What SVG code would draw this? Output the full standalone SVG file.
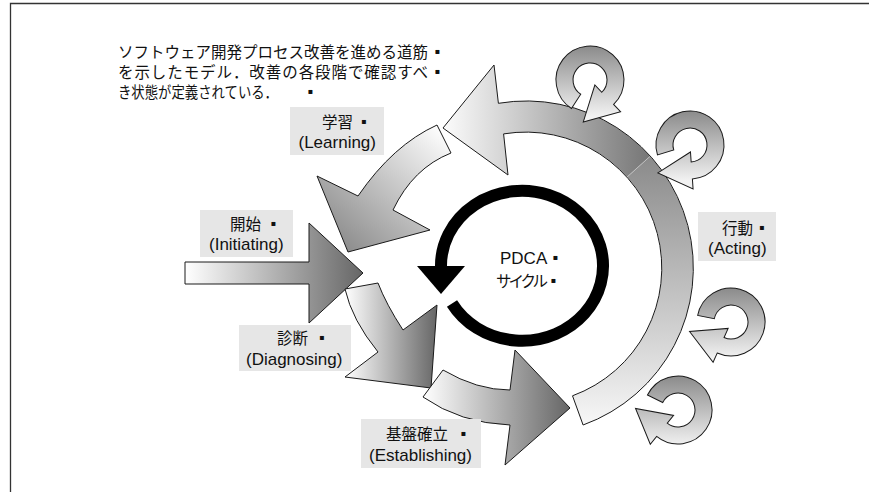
<svg xmlns="http://www.w3.org/2000/svg" width="879" height="497" viewBox="0 0 879 497">
<defs>
<style>
.o{stroke:#1a1a1a;stroke-width:1;stroke-linejoin:miter}
.t{font-family:'Liberation Sans','Noto Sans CJK JP',sans-serif;font-size:17px;fill:#111}
.j{font-family:'Noto Sans CJK JP',sans-serif;font-size:15.5px;fill:#111}
.q{font-family:'DejaVu Sans',sans-serif;font-size:8px;fill:#111}
.lb{fill:#e6e6e6}
</style>
<linearGradient id="gLearn" gradientUnits="userSpaceOnUse" x1="445" y1="135" x2="340" y2="250"><stop offset="0" stop-color="#fcfcfc"/><stop offset="1" stop-color="#8a8a8a"/></linearGradient>
<linearGradient id="gInit" gradientUnits="userSpaceOnUse" x1="185" y1="0" x2="363" y2="0"><stop offset="0" stop-color="#ffffff"/><stop offset="1" stop-color="#666666"/></linearGradient>
<linearGradient id="gDiag" gradientUnits="userSpaceOnUse" x1="345" y1="0" x2="437" y2="0"><stop offset="0" stop-color="#ffffff"/><stop offset="1" stop-color="#666666"/></linearGradient>
<linearGradient id="gEst" gradientUnits="userSpaceOnUse" x1="423" y1="0" x2="570" y2="0"><stop offset="0" stop-color="#ffffff"/><stop offset="1" stop-color="#666666"/></linearGradient>
<linearGradient id="gBand1" gradientUnits="userSpaceOnUse" x1="0" y1="425" x2="0" y2="156"><stop offset="0" stop-color="#f7f7f7"/><stop offset="1" stop-color="#8a8a8a"/></linearGradient>
<linearGradient id="gBand2" gradientUnits="userSpaceOnUse" x1="443" y1="0" x2="650" y2="0"><stop offset="0" stop-color="#fcfcfc"/><stop offset="1" stop-color="#767676"/></linearGradient>
<linearGradient id="gi1" gradientUnits="userSpaceOnUse" x1="0" y1="-36" x2="0" y2="36" gradientTransform="rotate(82)"><stop offset="0" stop-color="#888888"/><stop offset="1" stop-color="#f2f2f2"/></linearGradient>
<linearGradient id="gi2" gradientUnits="userSpaceOnUse" x1="0" y1="-36" x2="0" y2="36" gradientTransform="rotate(42)"><stop offset="0" stop-color="#888888"/><stop offset="1" stop-color="#f2f2f2"/></linearGradient>
<linearGradient id="gi3" gradientUnits="userSpaceOnUse" x1="0" y1="-36" x2="0" y2="36" gradientTransform="rotate(14)"><stop offset="0" stop-color="#888888"/><stop offset="1" stop-color="#f2f2f2"/></linearGradient>
<linearGradient id="gi4" gradientUnits="userSpaceOnUse" x1="0" y1="-36" x2="0" y2="36" gradientTransform="rotate(-1)"><stop offset="0" stop-color="#888888"/><stop offset="1" stop-color="#f2f2f2"/></linearGradient>
<path id="icon" d="M -30.8,-14.4 A 34 34 0 1 1 -20.9,26.8 L -27.1,34.7 L -42.5,-0.8 L -4.3,5.5 L -10.5,13.4 A 17 17 0 1 0 -15.4,-7.2 Z"/>
</defs>
<rect width="879" height="497" fill="#ffffff"/>
<path d="M10.5,492 V3.5 H869" fill="none" stroke="#333" stroke-width="1.3"/>

<g id="description">
<text class="j" x="118" y="58" textLength="310" lengthAdjust="spacing">ソフトウェア開発プロセス改善を進める道筋</text>
<text class="q" x="434.5" y="54">▪</text>
<text class="j" x="118" y="78" textLength="310" lengthAdjust="spacing">を示したモデル．改善の各段階で確認すべ</text>
<text class="q" x="434.5" y="74">▪</text>
<text class="j" x="118" y="98" textLength="160" lengthAdjust="spacingAndGlyphs">き状態が定義されている．</text>
<text class="q" x="307.5" y="94">▪</text>
</g>

<g id="connectors">
<g id="acting-band">
<path d="M 572.5,395.8 L 583.1,425 A 167 167 0 0 0 650.1,156.3 L 627.1,177 A 136 136 0 0 1 572.5,395.8 Z" fill="url(#gBand1)"/>
<path d="M 650.1,156.3 A 167 167 0 0 0 498.4,103.3 L 494,65 L 443,128 L 508,175 L 503.6,133.9 A 136 136 0 0 1 627.1,177 Z" fill="url(#gBand2)"/>
<path d="M 650.1,156.3 L 627.1,177" stroke="#cfcfcf" stroke-width="0.7"/>
<path class="o" fill="none" d="M 572.5,395.8 L 583.1,425 A 167 167 0 0 0 498.4,103.3 L 494,65 L 443,128 L 508,175 L 503.6,133.9 A 136 136 0 0 1 572.5,395.8 Z"/>
</g>
<path id="learning-arrow" class="o" fill="url(#gLearn)" d="M 437,125 Q 393,145 358,196 L 317,176 L 348,252 L 430,230 L 393,210 Q 413,168 451,153 Z"/>
<path id="initiating-arrow" class="o" fill="url(#gInit)" d="M185,262 H309 V223 L363,273 L309,323 V284 H185 Z"/>
<path id="diagnosing-arrow" class="o" fill="url(#gDiag)" d="M 345,289 Q 352,320 378,352 L 345,377 L 431,388 L 437,305 L 403,330 Q 386,304 378,283 Z"/>
<path id="establishing-arrow" class="o" fill="url(#gEst)" d="M 443,370 Q 477,390 510,390 L 515,350 L 570,408 L 505,465 L 510,425 Q 460,423 423,397 Z"/>
<g id="pdca-ring">
<path d="M 452,303.5 A 81 75 0 1 0 441,267" fill="none" stroke="#000" stroke-width="12"/>
<path d="M 417,266 L 465,266 L 441,294 Z" fill="#000"/>
</g>
<g id="cycles">
<use href="#icon" class="o" fill="url(#gi1)" transform="translate(590,80) rotate(-82)"/>
<use href="#icon" class="o" fill="url(#gi2)" transform="translate(690,145) rotate(-42)"/>
<use href="#icon" class="o" fill="url(#gi3)" transform="translate(731,322) rotate(-14)"/>
<use href="#icon" class="o" fill="url(#gi4)" transform="translate(678,410) rotate(1)"/>
</g>
</g>

<g id="pdca">
<text class="t" x="500" y="264">PDCA</text><text class="q" x="552.5" y="260">▪</text>
<text class="j" x="496" y="287" textLength="52" lengthAdjust="spacing">サイクル</text><text class="q" x="550.5" y="283">▪</text>
</g>

<g id="learning">
<rect class="lb" x="290" y="107" width="94" height="48"/>
<text class="j" x="322" y="128">学習</text><text class="q" x="361" y="124">▪</text>
<text class="t" x="298.5" y="148">(Learning)</text>
</g>

<g id="initiating">
<rect class="lb" x="200" y="210" width="93" height="47"/>
<text class="j" x="230" y="230">開始</text><text class="q" x="270.5" y="226">▪</text>
<text class="t" x="209" y="250">(Initiating)</text>
</g>

<g id="diagnosing">
<rect class="lb" x="239" y="325" width="112" height="46"/>
<text class="j" x="277" y="344">診断</text><text class="q" x="319" y="340">▪</text>
<text class="t" x="246" y="365">(Diagnosing)</text>
</g>

<g id="establishing">
<rect class="lb" x="361" y="419" width="120" height="49"/>
<text class="j" x="386" y="440">基盤確立</text><text class="q" x="460.5" y="436">▪</text>
<text class="t" x="369" y="461">(Establishing)</text>
</g>

<g id="acting">
<rect class="lb" x="698" y="212" width="78" height="49"/>
<text class="j" x="722" y="234">行動</text><text class="q" x="759" y="230">▪</text>
<text class="t" x="708" y="254">(Acting)</text>
</g>
</svg>
